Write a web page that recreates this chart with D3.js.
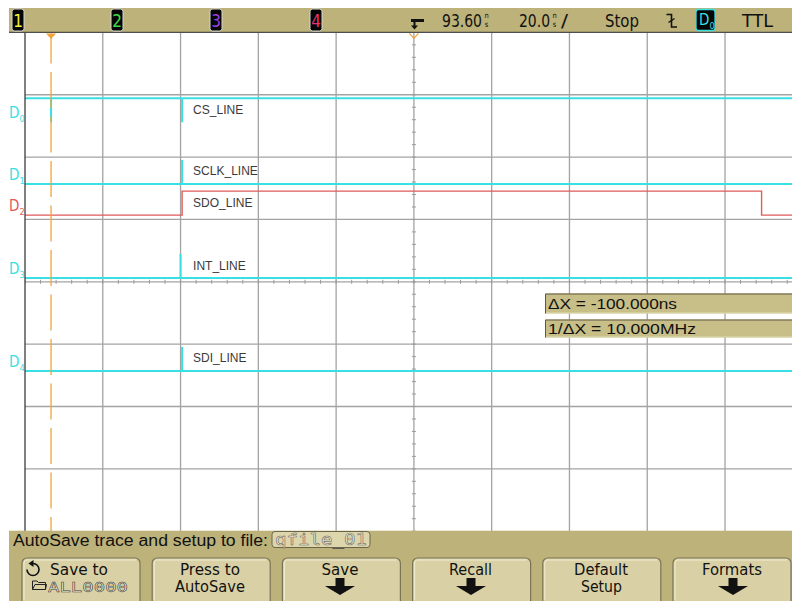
<!DOCTYPE html>
<html>
<head>
<meta charset="utf-8">
<script src="https://cdn.jsdelivr.net/npm/d3@7"></script>
<style>
  html, body { margin: 0; padding: 0; background: #ffffff; }
  svg { display: block; }
</style>
</head>
<body>
<svg id="scope" width="792" height="601"></svg>
<script>
// ---- Acquisition settings ----
const timePerDiv = 20;        // ns / div
const triggerDelay = 93.6;    // ns at screen centre
const hDivs = 10, vDivs = 8;
const runState = "Stop";
const triggerSource = "D0";
const thresholdName = "TTL";
const analogChannels = ["1", "2", "3", "4"];

// ---- Digital channels ----
const channelNames = ["D0", "D1", "D2", "D3", "D4"];
const signalNames = ["CS_LINE", "SCLK_LINE", "SDO_LINE", "INT_LINE", "SDI_LINE"];
const channelPositions = [1.44, 2.43, 2.93, 3.94, 5.43]; // low level, divisions from top
const logicSwing = 0.385;                                   // low-to-high, divisions
const annotationTime = 34;                                  // ns, where the names are attached

// Logic traces as [time ns, level] steps
const csSteps   = [[-6.4, 1], [0.3, 0], [0.3, 1], [34, 0], [34, 1], [193.6, 1]];
const sclkSteps = [[-6.4, 0], [34, 1], [34, 0], [193.6, 0]];
const sdoSteps  = [[-6.4, 0], [34, 1], [183, 0], [193.6, 0]];
const intSteps  = [[-6.4, 0], [33.6, 1], [33.6, 0], [193.6, 0]];
const sdiSteps  = [[-6.4, 0], [34, 1], [34, 0], [193.6, 0]];
const traces = [csSteps, sclkSteps, sdoSteps, intSteps, sdiSteps];

// ---- Cursors ----
const cursorTimes = [0.3];
const deltaX = -100;          // ns

// ---- Soft keys ----
const softkeyTop = ["Save to", "Press to", "Save", "Recall", "Default", "Formats"];
const softkeyBottom = ["ALL0000", "AutoSave", null, null, "Setup", null];
const autoSavePrompt = "AutoSave trace and setup to file:";
const autoSaveFile = "qfile_01";

// ---- Style ----
const W = 792, H = 601;
const gridLeft = 25, divW = 77.78, gridTop = 32.4, divH = 62.35;
const khaki = "#bdb279", keyFace = "#d9d1a5", boxFace = "#c8be88";
const cyan = "#38dfe3", red = "#e25a5a", orange = "#f1a43a";
const traceColors = [cyan, cyan, red, cyan, cyan];
const chanColors = ["#f3f33a", "#3fdc3f", "#9b3fe2", "#e8336e"];
const narrow = "'Liberation Sans Narrow','DejaVu Sans Condensed','Arial Narrow',sans-serif";
const sans = "'Liberation Sans',Arial,sans-serif";
const mono = "'DejaVu Sans Mono','Liberation Mono',monospace";

const svg = d3.select("#scope");
svg.append("rect").attr("width", W).attr("height", H).attr("fill", "#fff");

const tStart = triggerDelay - hDivs / 2 * timePerDiv;
const tEnd = triggerDelay + hDivs / 2 * timePerDiv;
const x = d3.scaleLinear().domain([tStart, tEnd]).range([gridLeft, gridLeft + hDivs * divW]);
const y = d3.scaleLinear().domain([0, vDivs]).range([gridTop, gridTop + vDivs * divH]);
const gridBottom = y(vDivs);

svg.append("defs").append("clipPath").attr("id", "plot")
  .append("rect").attr("x", gridLeft).attr("y", gridTop).attr("width", W - gridLeft).attr("height", gridBottom - gridTop);

const plot = svg.append("g").attr("clip-path", "url(#plot)");

// graticule
const grid = plot.append("g").attr("stroke", "#a3a3a3").attr("stroke-width", 1.3);
d3.range(1, hDivs).forEach(i => {
  const gx = x(tStart + i * timePerDiv);
  grid.append("line").attr("x1", gx).attr("x2", gx).attr("y1", gridTop).attr("y2", gridBottom);
});
d3.range(1, vDivs).forEach(j => {
  grid.append("line").attr("x1", gridLeft).attr("x2", W).attr("y1", y(j)).attr("y2", y(j));
});
// minor ticks on the centre axes
const ticks = plot.append("g").attr("stroke", "#9a9a9a").attr("stroke-width", 1);
d3.range(0, hDivs * 5 + 1).forEach(k => {
  const tx = x(tStart + k * timePerDiv / 5);
  ticks.append("line").attr("x1", tx).attr("x2", tx).attr("y1", y(vDivs / 2) - 2).attr("y2", y(vDivs / 2) + 2);
});
d3.range(0, vDivs * 5 + 1).forEach(k => {
  const ty = y(k / 5);
  ticks.append("line").attr("x1", x(triggerDelay) - 2).attr("x2", x(triggerDelay) + 2).attr("y1", ty).attr("y2", ty);
});
// left edge of the graticule
svg.append("line").attr("x1", gridLeft).attr("x2", gridLeft).attr("y1", gridTop).attr("y2", gridBottom)
  .attr("stroke", "#3c3c3c").attr("stroke-width", 1.3);

// logic traces
const levelY = (ch, lv) => y(channelPositions[ch] - lv * logicSwing);
traces.forEach((steps, ch) => {
  const line = d3.line()
    .x(d => x(d[0]))
    .y(d => levelY(ch, d[1]))
    .curve(d3.curveStepAfter);
  plot.append("path").attr("d", line(steps))
    .attr("fill", "none")
    .attr("stroke", traceColors[ch])
    .attr("stroke-width", ch === 2 ? 1.4 : 2);
});

// signal names
signalNames.forEach((nm, ch) => {
  svg.append("text").attr("x", x(annotationTime) + 11).attr("y", levelY(ch, 1) + 15.5)
    .attr("font-family", sans).attr("font-size", 12).attr("fill", "#3a3a3a")
    .text(nm);
});

// channel tags on the left
channelNames.forEach((nm, ch) => {
  const t = svg.append("text").attr("x", 9).attr("y", levelY(ch, 0) - 4)
    .attr("font-family", narrow).attr("font-size", 15).attr("fill", traceColors[ch]);
  t.append("tspan").text(nm[0]);
  t.append("tspan").attr("font-size", 9).attr("dy", 4).text(nm.slice(1));
});

// cursor
cursorTimes.forEach(ct => {
  svg.append("line").attr("x1", x(ct)).attr("x2", x(ct)).attr("y1", gridTop + 1).attr("y2", gridBottom)
    .attr("stroke", orange).attr("stroke-width", 1.3).attr("stroke-dasharray", "36,8.5").attr("stroke-dashoffset", 6);
  svg.append("path")
    .attr("d", `M${x(ct) - 5},${gridTop + 1}L${x(ct) + 5},${gridTop + 1}L${x(ct)},${gridTop + 6.5}Z`)
    .attr("fill", orange);
});
// trigger position marker
svg.append("path")
  .attr("d", `M${x(triggerDelay) - 4.5},${gridTop + 1}L${x(triggerDelay)},${gridTop + 6}L${x(triggerDelay) + 4.5},${gridTop + 1}`)
  .attr("fill", "none").attr("stroke", orange).attr("stroke-width", 1.3);

// ---- status bar ----
svg.append("rect").attr("x", 9).attr("y", 8).attr("width", W - 9).attr("height", gridTop - 8).attr("fill", khaki);
svg.append("line").attr("x1", 9).attr("x2", W).attr("y1", gridTop).attr("y2", gridTop)
  .attr("stroke", "#4e4e4e").attr("stroke-width", 1.2);

const chanBoxX = [12, 111, 210, 310];
analogChannels.forEach((c, i) => {
  svg.append("rect").attr("x", chanBoxX[i]).attr("y", 9).attr("width", 12).attr("height", 22).attr("rx", 2.5)
    .attr("fill", "#050505").attr("stroke", "#d8d8d8").attr("stroke-width", 1);
  svg.append("text").attr("x", chanBoxX[i] + 6).attr("y", 27).attr("text-anchor", "middle")
    .attr("font-family", narrow).attr("font-size", 17).attr("fill", chanColors[i]).text(c);
});

// trigger point glyph
svg.append("path").attr("d", "M411,20.5H424").attr("stroke", "#111").attr("stroke-width", 3);
svg.append("path").attr("d", "M414.5,21V26").attr("stroke", "#111").attr("stroke-width", 2);
svg.append("path").attr("d", "M411,25.5L418,25.5L414.5,29.5Z").attr("fill", "#111");

function statusText(str, x0, len) {
  return svg.append("text").attr("x", x0).attr("y", 27).attr("font-family", narrow).attr("font-size", 17)
    .attr("fill", "#111").attr("textLength", len).attr("lengthAdjust", "spacingAndGlyphs").text(str);
}
// stacked "ns" unit
function unitStack(x0) {
  svg.append("text").attr("x", x0).attr("y", 18.3).attr("font-family", narrow).attr("font-size", 7.5).attr("fill", "#111").text("n");
  svg.append("text").attr("x", x0 + 0.3).attr("y", 26.8).attr("font-family", narrow).attr("font-size", 7.5).attr("fill", "#111").text("s");
}
statusText(triggerDelay.toFixed(2), 442, 40);
unitStack(484.5);
statusText(timePerDiv.toFixed(1), 519, 31);
unitStack(552.5);
statusText("/", 561, 7);
statusText(runState, 605, 34);
statusText(thresholdName, 742, 31);

// falling-edge slope glyph
svg.append("path").attr("d", "M666.5,14.5H671.5V27H677").attr("fill", "none").attr("stroke", "#111").attr("stroke-width", 1.6);
svg.append("path").attr("d", "M668.5,22.5L674.5,18.5").attr("stroke", "#111").attr("stroke-width", 1.4);

// trigger source tag
svg.append("rect").attr("x", 696).attr("y", 9.5).attr("width", 19).attr("height", 21).attr("rx", 2.5)
  .attr("fill", "#050505").attr("stroke", cyan).attr("stroke-width", 1.3);
const trg = svg.append("text").attr("x", 699).attr("y", 25).attr("font-family", narrow).attr("font-size", 15).attr("fill", cyan);
trg.append("tspan").text(triggerSource[0]);
trg.append("tspan").attr("font-size", 9).attr("dy", 3.5).text(triggerSource.slice(1));

// ---- cursor readouts ----
const readouts = [
  `\u0394X = ${deltaX.toFixed(3)}ns`,
  `1/\u0394X = ${(1000 / Math.abs(deltaX)).toFixed(3)}MHz`
];
const readY = [293.5, 319.5], readH = [20, 18], readLen = [129, 148], readBase = [308.5, 333.5];
readouts.forEach((s, i) => {
  svg.append("rect").attr("x", 545).attr("y", readY[i]).attr("width", W - 545).attr("height", readH[i]).attr("fill", boxFace);
  svg.append("path").attr("d", `M545.5,${readY[i] + readH[i]}V${readY[i] + 0.5}H${W}`)
    .attr("fill", "none").attr("stroke", "#5e5940").attr("stroke-width", 1);
  svg.append("line").attr("x1", 546).attr("x2", W).attr("y1", readY[i] + readH[i] - 0.5).attr("y2", readY[i] + readH[i] - 0.5)
    .attr("stroke", "#e2dbb4").attr("stroke-width", 1);
  svg.append("text").attr("x", 548).attr("y", readBase[i]).attr("font-family", sans).attr("font-size", 15.5)
    .attr("fill", "#111").attr("textLength", readLen[i]).attr("lengthAdjust", "spacingAndGlyphs").text(s);
});

// ---- soft-key bar ----
svg.append("rect").attr("x", 9).attr("y", gridBottom - 0.5).attr("width", W - 9).attr("height", H - gridBottom + 1).attr("fill", khaki);
svg.append("text").attr("x", 13).attr("y", 545.5).attr("font-family", sans).attr("font-size", 16).attr("fill", "#111")
  .attr("textLength", 255).attr("lengthAdjust", "spacingAndGlyphs").text(autoSavePrompt);
svg.append("rect").attr("x", 272).attr("y", 531.5).attr("width", 98).attr("height", 16).attr("rx", 3)
  .attr("fill", "#ddd6ad").attr("stroke", "#6b6548").attr("stroke-width", 1);
svg.append("text").attr("x", 275).attr("y", 545).attr("font-family", mono).attr("font-size", 15)
  .attr("fill", "#efe9cc").attr("stroke", "#5a5a5a").attr("stroke-width", 0.45)
  .attr("textLength", 92).attr("lengthAdjust", "spacingAndGlyphs").text(autoSaveFile);

const keyPitch = 130.2, keyX0 = 22, keyW = 118;
const topCentres = [79, 210, 340, 470.5, 601, 732];
const topLens = [58, 60, 37, 43, 54, 60];
const botCentres = [88, 210, 340, 471, 601.5, 733];
const botLens = [80, 70, 0, 0, 41, 0];
softkeyTop.forEach((lab, i) => {
  const kx = keyX0 + i * keyPitch;
  svg.append("rect").attr("x", kx).attr("y", 558).attr("width", keyW).attr("height", 52).attr("rx", 5)
    .attr("fill", keyFace).attr("stroke", "#7a7456").attr("stroke-width", 1.2);
  svg.append("path").attr("d", `M${kx + 2},${600}V${563}Q${kx + 2},${560} ${kx + 5},${560}H${kx + keyW - 4}`)
    .attr("fill", "none").attr("stroke", "#f1ecd2").attr("stroke-width", 1);
  svg.append("text").attr("x", topCentres[i]).attr("y", 575).attr("text-anchor", "middle")
    .attr("font-family", narrow).attr("font-size", 15).attr("fill", "#111")
    .attr("textLength", topLens[i]).attr("lengthAdjust", "spacingAndGlyphs").text(lab);
  const b = softkeyBottom[i];
  if (b === null) {
    const cx = botCentres[i];
    svg.append("path")
      .attr("d", `M${cx - 4.5},578V586H${cx - 15}L${cx},595L${cx + 15},586H${cx + 4.5}V578Z`)
      .attr("fill", "#111");
  } else if (i === 0) {
    svg.append("text").attr("x", botCentres[i]).attr("y", 592).attr("text-anchor", "middle")
      .attr("font-family", mono).attr("font-size", 14).attr("fill", "#efe9cc").attr("stroke", "#3f3f3f").attr("stroke-width", 0.5)
      .attr("textLength", botLens[i]).attr("lengthAdjust", "spacingAndGlyphs").text(b);
  } else {
    svg.append("text").attr("x", botCentres[i]).attr("y", 592).attr("text-anchor", "middle")
      .attr("font-family", narrow).attr("font-size", 15).attr("fill", "#111")
      .attr("textLength", botLens[i]).attr("lengthAdjust", "spacingAndGlyphs").text(b);
  }
});
// rotate-arrow icon on the first key
svg.append("path").attr("d", "M33,563.5A6,6 0 1 1 27,569.5").attr("fill", "none").attr("stroke", "#111").attr("stroke-width", 1.6);
svg.append("path").attr("d", "M28.5,563.5L33.5,560L33.5,567Z").attr("fill", "#111");
// folder icon
svg.append("path").attr("d", "M32.5,589.5V581H37L38.5,582.5H45.5V589.5Z M32.5,589.5L35,584.5H46.5L45.5,589.5")
  .attr("fill", "none").attr("stroke", "#222").attr("stroke-width", 1);
</script>
</body>
</html>
